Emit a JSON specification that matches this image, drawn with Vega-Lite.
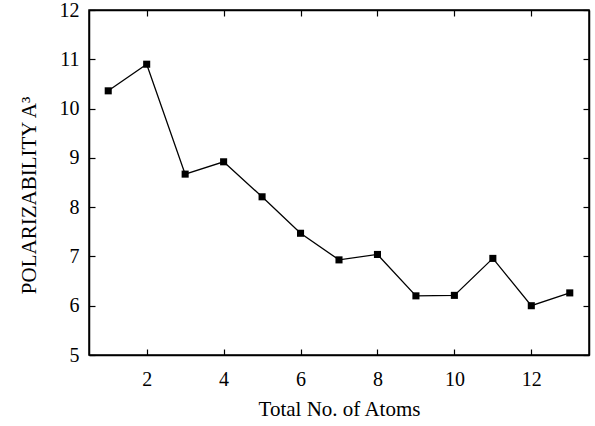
{
  "$schema": "https://vega.github.io/schema/vega-lite/v6.json",
  "width": 500,
  "height": 345,
  "autosize": {"type": "none"},
  "padding": {"left": 89, "top": 10, "right": 6, "bottom": 71},
  "background": "white",
  "config": {
    "view": {"stroke": "black", "strokeWidth": 1.5},
    "font": "Liberation Serif",
    "axis": {
      "labelFont": "Liberation Serif",
      "titleFont": "Liberation Serif",
      "labelFontSize": 20,
      "titleFontSize": 21,
      "labelColor": "black",
      "titleColor": "black",
      "titleFontWeight": "normal",
      "domainColor": "black",
      "domainWidth": 1.5,
      "tickColor": "black",
      "tickWidth": 1.2,
      "grid": false
    }
  },
  "data": {
    "values": [
      {"atoms": 1, "pol": 10.36},
      {"atoms": 2, "pol": 10.9},
      {"atoms": 3, "pol": 8.67},
      {"atoms": 4, "pol": 8.92},
      {"atoms": 5, "pol": 8.21},
      {"atoms": 6, "pol": 7.47},
      {"atoms": 7, "pol": 6.93},
      {"atoms": 8, "pol": 7.04},
      {"atoms": 9, "pol": 6.2},
      {"atoms": 10, "pol": 6.21},
      {"atoms": 11, "pol": 6.96},
      {"atoms": 12, "pol": 6.0},
      {"atoms": 13, "pol": 6.26}
    ]
  },
  "layer": [
    {
      "mark": {"type": "line", "color": "black", "strokeWidth": 1.3},
      "encoding": {
        "x": {
          "field": "atoms", "type": "quantitative",
          "scale": {"domain": [0.5, 13.5], "nice": false, "zero": false},
          "axis": {"orient": "bottom", "values": [2, 4, 6, 8, 10, 12], "tickSize": -6, "labelPadding": 20, "title": "Total No. of Atoms", "titlePadding": 9}
        },
        "y": {
          "field": "pol", "type": "quantitative",
          "scale": {"domain": [5, 12], "nice": false, "zero": false},
          "axis": {"orient": "left", "values": [5, 6, 7, 8, 9, 10, 11, 12], "tickSize": -6, "labelPadding": 16, "title": "POLARIZABILITY A³", "titlePadding": 20, "titleY": 185}
        }
      }
    },
    {
      "mark": {"type": "square", "color": "black", "opacity": 1, "size": 50},
      "encoding": {
        "x": {"field": "atoms", "type": "quantitative", "axis": null},
        "y": {"field": "pol", "type": "quantitative", "axis": null}
      }
    },
    {
      "mark": {"type": "point", "opacity": 0},
      "encoding": {
        "x": {
          "field": "atoms", "type": "quantitative",
          "axis": {"orient": "top", "values": [2, 4, 6, 8, 10, 12], "tickSize": -6, "labels": false, "title": null}
        },
        "y": {
          "field": "pol", "type": "quantitative",
          "axis": {"orient": "right", "values": [5, 6, 7, 8, 9, 10, 11, 12], "tickSize": -6, "labels": false, "title": null}
        }
      }
    }
  ],
  "resolve": {"axis": {"x": "independent", "y": "independent"}}
}
